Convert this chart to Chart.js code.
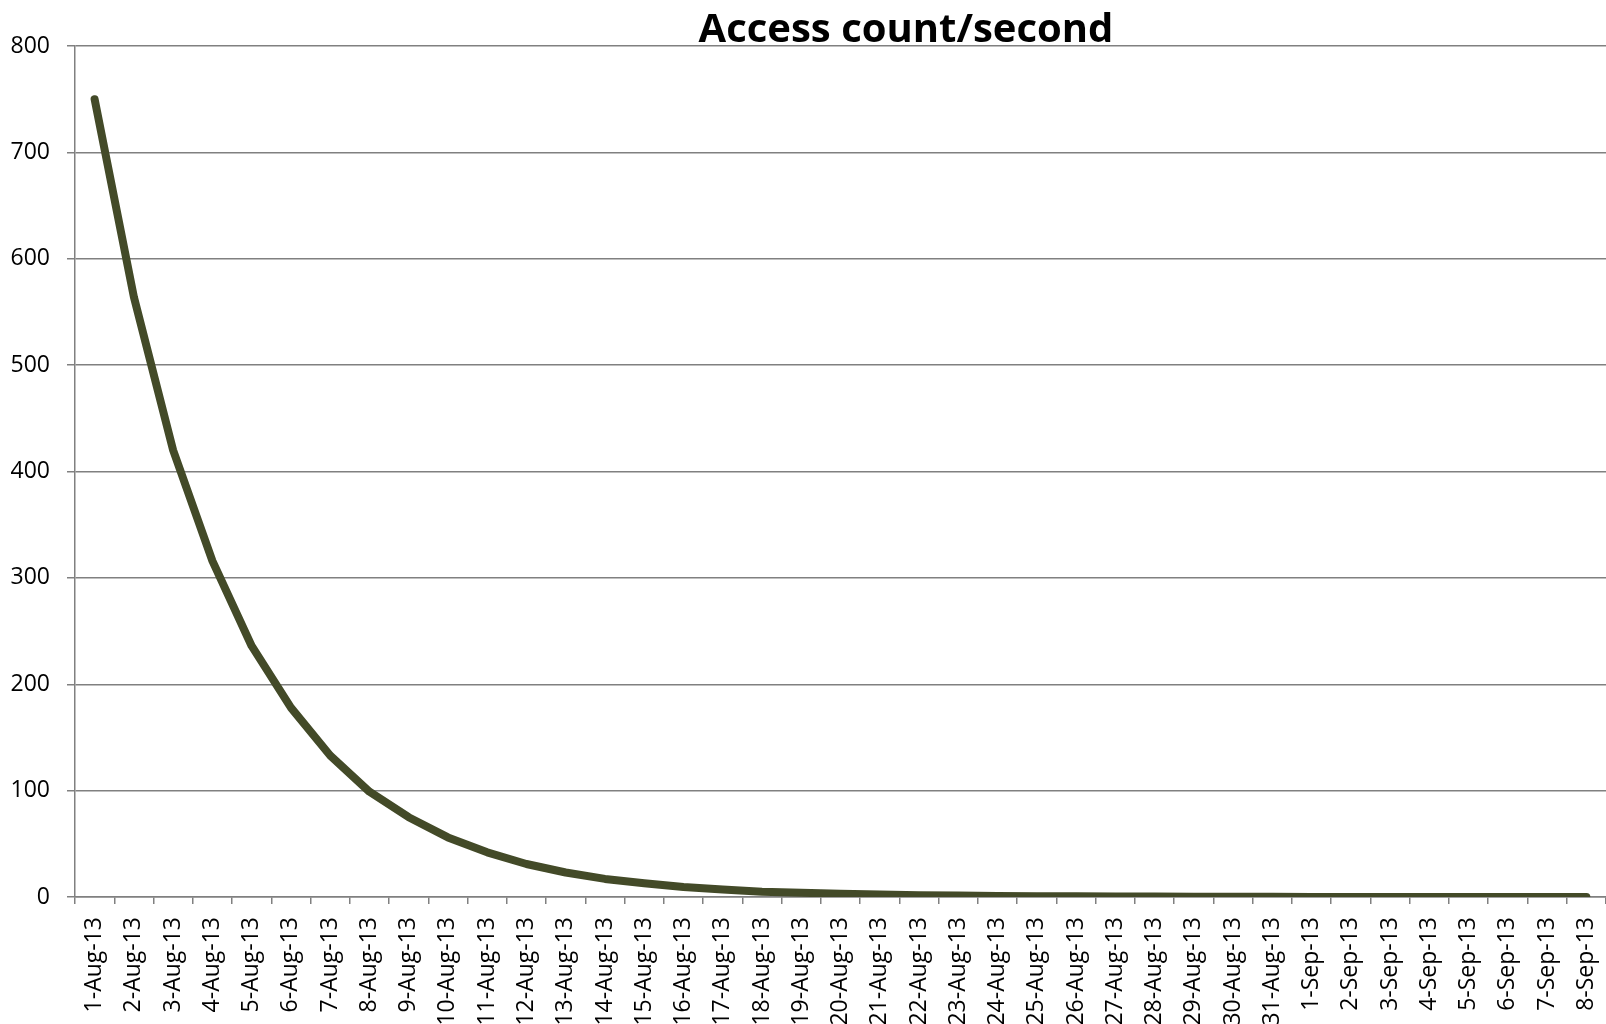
<!DOCTYPE html>
<html>
<head>
<meta charset="utf-8">
<title>Access count/second</title>
<script src="https://cdn.jsdelivr.net/npm/chart.js@4.4.1/dist/chart.umd.min.js"></script>
<style>
  html, body { margin: 0; padding: 0; background: #ffffff; overflow: hidden; }
  canvas { display: block; }
</style>
</head>
<body>
<canvas id="chart" width="1606" height="1024"></canvas>
<script>
// Daily dates along the category axis
const days = [
  '1-Aug-13', '2-Aug-13', '3-Aug-13', '4-Aug-13', '5-Aug-13', '6-Aug-13', '7-Aug-13',
  '8-Aug-13', '9-Aug-13', '10-Aug-13', '11-Aug-13', '12-Aug-13', '13-Aug-13', '14-Aug-13',
  '15-Aug-13', '16-Aug-13', '17-Aug-13', '18-Aug-13', '19-Aug-13', '20-Aug-13', '21-Aug-13',
  '22-Aug-13', '23-Aug-13', '24-Aug-13', '25-Aug-13', '26-Aug-13', '27-Aug-13', '28-Aug-13',
  '29-Aug-13', '30-Aug-13', '31-Aug-13', '1-Sep-13', '2-Sep-13', '3-Sep-13', '4-Sep-13',
  '5-Sep-13', '6-Sep-13', '7-Sep-13', '8-Sep-13'
];

// Access count per second, one value per day
const accessRate = [
  750, 564, 420, 316, 236, 178, 133, 99, 75, 56,
  42, 31, 23, 17, 13, 9.5, 7, 5, 4, 3,
  2.3, 1.7, 1.3, 1, 0.8, 0.6, 0.5, 0.4, 0.3, 0.2,
  0.2, 0.1, 0.1, 0.1, 0.1, 0.05, 0.05, 0.05, 0.05
];

// Value axis range and step
const yMin = 0;
const yMax = 800;
const yStep = 100;

const chartTitle = 'Access count/second';

const axisGrey = '#808080';
const lineColour = '#434a28';

// Title drawn on top, centred over the wider sheet area
const titlePlugin = {
  id: 'sheetTitle',
  afterDraw(chart) {
    const ctx = chart.ctx;
    ctx.save();
    ctx.font = 'bold 40px "Open Sans"';
    ctx.fillStyle = '#000000';
    ctx.textAlign = 'center';
    ctx.textBaseline = 'alphabetic';
    ctx.fillText(chartTitle, 906, 42);
    ctx.restore();
  }
};

new Chart(document.getElementById('chart'), {
  type: 'line',
  data: {
    labels: days,
    datasets: [{
      data: accessRate,
      borderColor: lineColour,
      borderWidth: 8,
      borderCapStyle: 'round',
      borderJoinStyle: 'round',
      tension: 0,
      pointRadius: 0,
      fill: false
    }]
  },
  options: {
    responsive: false,
    animation: false,
    devicePixelRatio: 1,
    layout: { padding: { top: 46, right: 0, left: 0, bottom: 0 } },
    plugins: {
      legend: { display: false },
      title: { display: false },
      tooltip: { enabled: false }
    },
    scales: {
      x: {
        type: 'category',
        offset: true,
        grid: {
          display: true,
          offset: true,
          drawOnChartArea: false,
          drawTicks: true,
          tickLength: 7,
          color: axisGrey,
          lineWidth: 1.5
        },
        border: { display: true, color: axisGrey, width: 1.5 },
        ticks: {
          autoSkip: false,
          minRotation: 90,
          maxRotation: 90,
          padding: 13,
          color: '#000000',
          font: { family: '"Open Sans"', size: 23 }
        },
        afterFit(scale) {
          scale.height = 127;
          scale.paddingLeft = 0;
          scale.paddingRight = 0;
        }
      },
      y: {
        min: yMin,
        max: yMax,
        grid: {
          color: axisGrey,
          lineWidth: 1.5,
          tickLength: 8,
          drawTicks: true
        },
        border: { display: true, color: axisGrey, width: 1.5 },
        ticks: {
          stepSize: yStep,
          padding: 17,
          color: '#000000',
          font: { family: '"Open Sans"', size: 23 }
        },
        afterFit(scale) {
          scale.width = 75;
        }
      }
    }
  },
  plugins: [titlePlugin]
});
</script>
</body>
</html>
